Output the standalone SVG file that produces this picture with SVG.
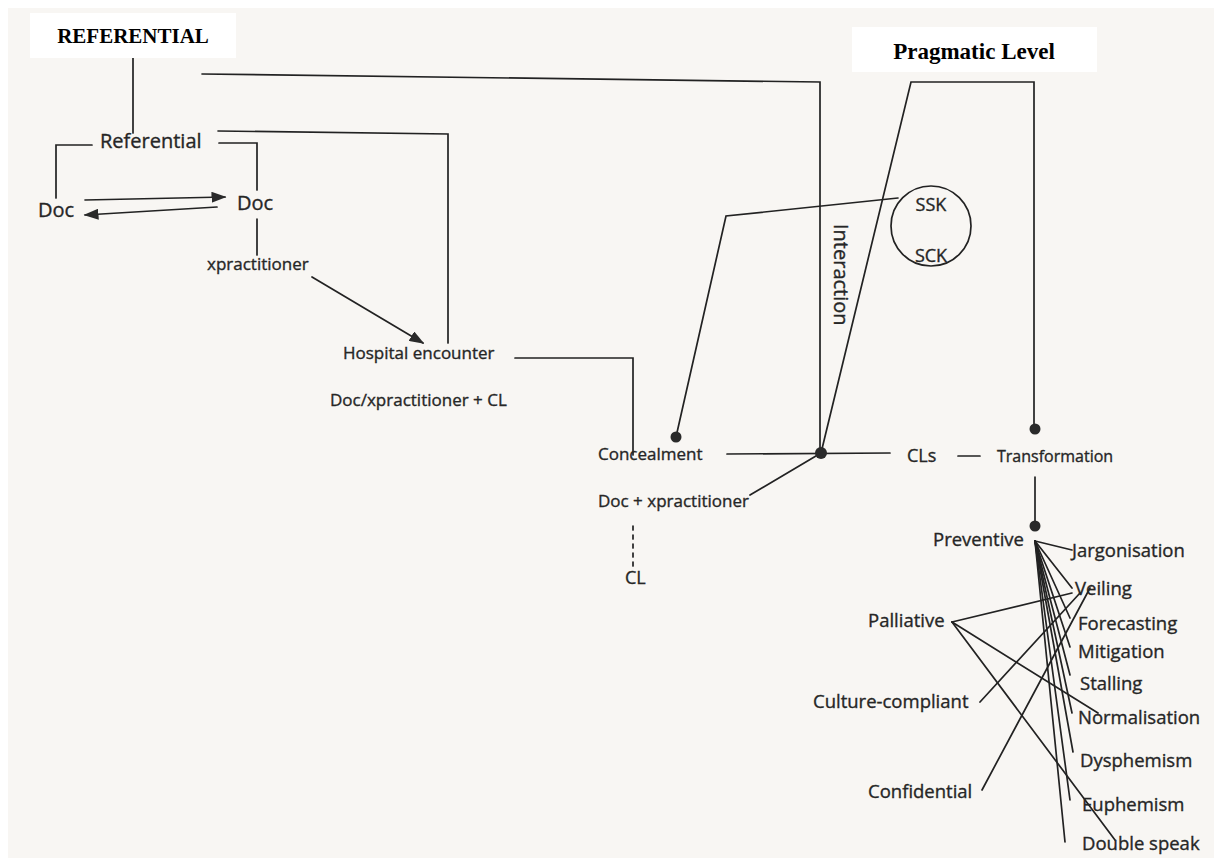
<svg xmlns="http://www.w3.org/2000/svg" width="1214" height="858" viewBox="0 0 1214 858">
<style>
.ln{fill:none;stroke:#222;stroke-width:1.7;stroke-linecap:round}
.t{font-family:"Open Sans","Noto Sans",sans-serif;fill:#262626;stroke:#262626;stroke-width:0.35}
.s17{font-size:17px}
.s18{font-size:18.5px}
.s20{font-size:20px}
.ttl{font-family:"Liberation Serif","Times New Roman",serif;font-weight:bold;fill:#000;text-anchor:middle}
.dot{fill:#2a2a2a}
</style>
<defs>
<marker id="ah2" viewBox="0 0 10 10" refX="9" refY="5" markerWidth="15" markerHeight="11" preserveAspectRatio="none" markerUnits="userSpaceOnUse" orient="auto">
<path d="M0,0 L10,5 L0,10 z" fill="#2a2a2a"/>
</marker>
</defs>
<rect x="0" y="0" width="1214" height="858" fill="#ffffff"/>
<rect x="8" y="8" width="1206" height="850" fill="#f8f6f3"/>

<g id="connectors">
<polyline class="ln" points="133,58 133,133"/>
<polyline class="ln" points="92,145 56,145 56,198"/>
<polyline class="ln" points="219,143 257,143 257,190"/>
<line class="ln" x1="85" y1="200" x2="225" y2="197" marker-end="url(#ah2)"/>
<line class="ln" x1="217" y1="207" x2="85" y2="215" marker-end="url(#ah2)"/>
<line class="ln" x1="257" y1="219" x2="257" y2="255"/>
<line class="ln" x1="312" y1="277" x2="423" y2="343" marker-end="url(#ah2)"/>
<polyline class="ln" points="218,131 448,134 448,343"/>
<polyline class="ln" points="202,74 820,82 820,453"/>
<polyline class="ln" points="515,358 633,358 633,455"/>
<polyline class="ln" points="898,198 726,216 676,437"/>
<line class="ln" x1="727" y1="454" x2="890" y2="453"/>
<line class="ln" x1="821" y1="453" x2="750" y2="495"/>
<polyline class="ln" points="821,453 911,82 1034,82 1034,428"/>
<line class="ln" x1="958" y1="456" x2="980" y2="456"/>
<line class="ln" x1="1035" y1="477" x2="1035" y2="526"/>
<line class="ln" x1="633" y1="526" x2="633" y2="566" stroke-dasharray="4 5"/>
<circle class="ln" cx="931" cy="226" r="40"/>
<line class="ln" x1="1035" y1="541" x2="1072" y2="550"/>
<line class="ln" x1="1035" y1="541" x2="1072" y2="588"/>
<line class="ln" x1="1035" y1="541" x2="1070" y2="618"/>
<line class="ln" x1="1035" y1="541" x2="1070" y2="647"/>
<line class="ln" x1="1035" y1="541" x2="1070" y2="675"/>
<line class="ln" x1="1035" y1="541" x2="1072" y2="713"/>
<line class="ln" x1="1035" y1="541" x2="1073" y2="752"/>
<line class="ln" x1="1035" y1="541" x2="1070" y2="800"/>
<line class="ln" x1="1035" y1="541" x2="1065" y2="842"/>
<line class="ln" x1="952" y1="622" x2="1072" y2="593"/>
<line class="ln" x1="952" y1="622" x2="1098" y2="713"/>
<line class="ln" x1="952" y1="622" x2="1115" y2="840"/>
<line class="ln" x1="980" y1="702" x2="1080" y2="593"/>
<line class="ln" x1="982" y1="790" x2="1090" y2="588"/>
</g>

<g id="dots">
<circle class="dot" cx="676" cy="437" r="5.5"/>
<circle class="dot" cx="821" cy="453" r="6"/>
<circle class="dot" cx="1035" cy="429" r="5.5"/>
<circle class="dot" cx="1035" cy="526" r="5.5"/>
</g>

<g id="title-referential">
<rect x="30" y="13" width="206" height="45" fill="#ffffff"/>
<text class="ttl" x="133" y="43" font-size="21">REFERENTIAL</text>
</g>
<g id="title-pragmatic">
<rect x="852" y="27" width="245" height="45" fill="#ffffff"/>
<text class="ttl" x="974" y="59" font-size="23">Pragmatic Level</text>
</g>

<g id="n-referential"><text class="t s20" x="100" y="148">Referential</text></g>
<g id="n-doc1"><text class="t s20" x="38" y="217">Doc</text></g>
<g id="n-doc2"><text class="t s20" x="237" y="210">Doc</text></g>
<g id="n-xpractitioner"><text class="t s17" x="207" y="270">xpractitioner</text></g>
<g id="n-hospital"><text class="t s17" x="343" y="359">Hospital encounter</text></g>
<g id="n-docxcl"><text class="t s17" x="330" y="406">Doc/xpractitioner + CL</text></g>
<g id="n-concealment"><text class="t s17" x="598" y="460">Concealment</text></g>
<g id="n-docplus"><text class="t s17" x="598" y="507">Doc + xpractitioner</text></g>
<g id="n-cl"><text class="t" font-size="18" x="625" y="584">CL</text></g>
<g id="n-interaction"><text class="t s20" transform="translate(834,224) rotate(90)">Interaction</text></g>
<g id="n-ssk"><text class="t" font-size="18" x="931" y="211" text-anchor="middle">SSK</text>
<text class="t" font-size="18" x="931" y="262" text-anchor="middle">SCK</text></g>
<g id="n-cls"><text class="t" font-size="18" x="907" y="462">CLs</text></g>
<g id="n-transformation"><text class="t" font-size="16" x="997" y="462">Transformation</text></g>
<g id="n-preventive"><text class="t s18" x="933" y="546">Preventive</text></g>
<g id="n-jargonisation"><text class="t s18" x="1072" y="557">Jargonisation</text></g>
<g id="n-veiling"><text class="t s18" x="1075" y="595">Veiling</text></g>
<g id="n-forecasting"><text class="t s18" x="1078" y="630">Forecasting</text></g>
<g id="n-mitigation"><text class="t s18" x="1078" y="658">Mitigation</text></g>
<g id="n-stalling"><text class="t s18" x="1080" y="690">Stalling</text></g>
<g id="n-normalisation"><text class="t s18" x="1078" y="724">Normalisation</text></g>
<g id="n-dysphemism"><text class="t s18" x="1080" y="767">Dysphemism</text></g>
<g id="n-euphemism"><text class="t s18" x="1082" y="811">Euphemism</text></g>
<g id="n-doublespeak"><text class="t s18" x="1082" y="850">Double speak</text></g>
<g id="n-palliative"><text class="t s18" x="868" y="627">Palliative</text></g>
<g id="n-culture"><text class="t s18" x="813" y="708">Culture-compliant</text></g>
<g id="n-confidential"><text class="t s18" x="868" y="798">Confidential</text></g>
</svg>
